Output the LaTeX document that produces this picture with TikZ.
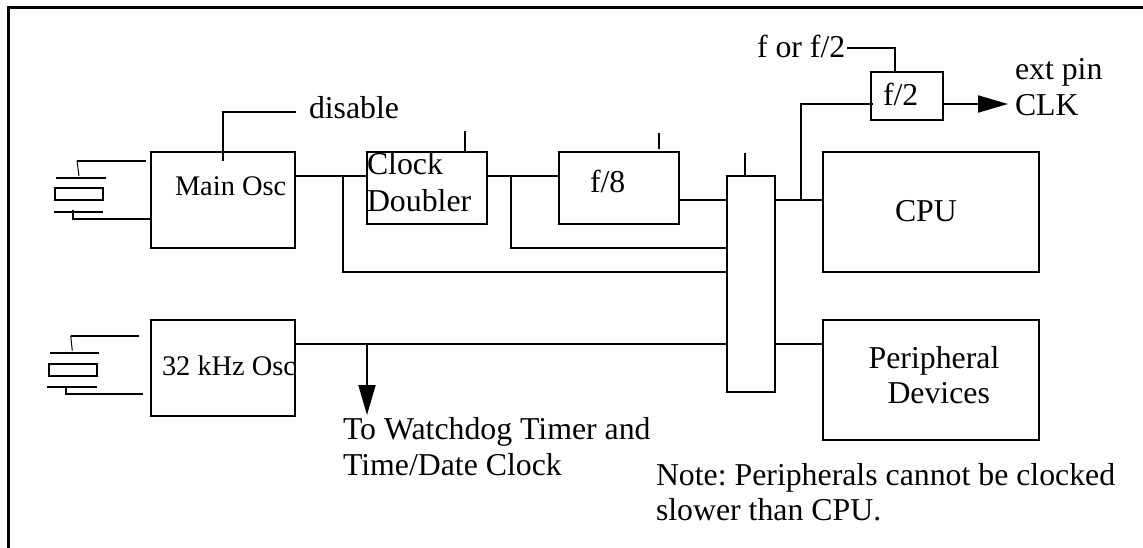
\documentclass[tikz,border=0pt]{standalone}
\usepackage{fontspec}
\setmainfont{Liberation Serif}
\usetikzlibrary{arrows.meta}
\tikzset{
  wire/.style={line width=1.9pt,line cap=butt},
  thinwire/.style={line width=1pt},
  frameline/.style={line width=2.8pt},
  blockbox/.style={draw,line width=1.9pt,inner sep=0pt,outer sep=0pt},
  lab/.style={anchor=base west,inner sep=0pt,outer sep=0pt,font=\fontsize{31.8}{32}\selectfont\frenchspacing},
  smalllab/.style={anchor=base west,inner sep=0pt,outer sep=0pt,font=\fontsize{28.4}{28.4}\selectfont},
  head/.style={-{Triangle[length=30pt,width=17pt]}},
}
\begin{document}
\begin{tikzpicture}[x=1pt,y=-1pt]
\useasboundingbox (0,0) rectangle (1143,548);
% frame
\coordinate (fa) at (8.5,548); \coordinate (fb) at (8.5,7.3); \coordinate (fc) at (1143,7.3);
\draw[frameline] (fa) -- (fb) -- (fc);
% blocks
\node[blockbox,minimum width=144pt,minimum height=95.6pt] (main) at (223,199.8) {};
\node[blockbox,minimum width=144pt,minimum height=95.6pt] (slow) at (223,367.8) {};
\node[blockbox,minimum width=120.3pt,minimum height=72pt] (dbl) at (426.8,188) {};
\node[blockbox,minimum width=120pt,minimum height=72pt] (div8) at (619,188) {};
\node[blockbox,minimum width=48pt,minimum height=215.7pt] (mux) at (751,283.8) {};
\node[blockbox,minimum width=216pt,minimum height=120pt] (cpu) at (931,212) {};
\node[blockbox,minimum width=216pt,minimum height=120pt] (per) at (931,380) {};
\node[blockbox,minimum width=72pt,minimum height=48pt] (div2) at (907,96) {};
% labels
\node[lab] (tdis) at (309,119) {disable};
\node[smalllab] (tmain) at (175,196) {Main Osc};
\node[smalllab] (tslow) at (162,375) {32 kHz Osc};
\node[lab] (tclk) at (367,175) {Clock};
\node[lab] (tdbl) at (367,212) {Doubler};
\node[lab] (tf8) at (590,193) {f/8};
\node[lab] (tfor) at (757,58) {f or f/2};
\node[lab] (tf2) at (883,106) {f/2};
\node[lab] (text) at (1015,80) {ext pin};
\node[lab] (tclkp) at (1015,116) {CLK};
\node[lab] (tcpu) at (895,222) {CPU};
\node[lab,anchor=base] (tper) at (934,368) {Peripheral};
\node[lab,anchor=base] (tdev) at (938.7,403.5) {Devices};
\node[lab] (twd) at (343,439) {To Watchdog Timer and};
\node[lab] (ttd) at (343,475) {Time/Date Clock};
\node[lab] (tnote) at (656,485.7) {Note: Peripherals cannot be clocked};
\node[lab] (tslw) at (656,520.5) {slower than CPU.};
% helper points
\coordinate (j1) at (343,176);
\coordinate (j2) at (511,176);
\coordinate (j3) at (801,200);
\coordinate (j4) at (367,344);
\coordinate (k1) at (343,272);
\coordinate (k2) at (511,248);
\coordinate (k3) at (801,104);
\coordinate (f8o) at (679,200);
% main wiring
\draw[wire] (main.east |- j1) -- (dbl.west |- j1);
\draw[wire] (j1) -- (k1) -- (mux.west |- k1);
\draw[wire] (dbl.east |- j2) -- (div8.west |- j2);
\draw[wire] (j2) -- (k2) -- (mux.west |- k2);
\draw[wire] (f8o) -- (mux.west |- f8o);
\draw[wire] (mux.east |- j3) -- (cpu.west |- j3);
\coordinate (d2i) at (873,104);
\draw[wire] (j3) -- (k3) -- (d2i);
\coordinate (d2o) at (942,104);
\coordinate (clktip) at (1008,104);
\draw[wire,head] (d2o) -- (clktip);
\coordinate (forend) at (847,48);
\coordinate (forc) at (895,48);
\draw[wire] (forend) -- (forc) -- (forc |- div2.north);
\coordinate (m344) at (727,344);
\draw[wire] (slow.east |- m344) -- (mux.west |- m344);
\draw[wire] (mux.east |- m344) -- (per.west |- m344);
\coordinate (wdtip) at (367,415);
\draw[wire,head] (j4) -- (wdtip);
% stubs
\coordinate (s1) at (465,131);
\draw[wire] (s1) -- (s1 |- dbl.north);
\coordinate (s2a) at (659,133); \coordinate (s2b) at (659,149);
\draw[wire] (s2a) -- (s2b);
\coordinate (s3) at (745,153);
\draw[wire] (s3) -- (s3 |- mux.north);
% disable
\coordinate (da) at (222.7,160.7); \coordinate (db) at (222.7,112); \coordinate (dc) at (295.7,112);
\draw[wire] (da) -- (db) -- (dc);
% crystal 1
\node[blockbox,minimum width=48.3pt,minimum height=12.3pt] (x1) at (78.8,193.8) {};
\coordinate (p1a) at (56,178); \coordinate (p1b) at (106,178);
\coordinate (p2a) at (54,212); \coordinate (p2b) at (102.7,212);
\draw[wire] (p1a) -- (p1b);
\draw[wire] (p2a) -- (p2b);
\coordinate (w1a) at (146,160.7); \coordinate (w1b) at (77,160.7); \coordinate (w1c) at (79,176);
\draw[wire] (w1a) -- (w1b);
\draw[thinwire] (w1b) -- (w1c);
\coordinate (w2a) at (72.7,210); \coordinate (w2b) at (72.7,218.7);
\draw[wire] (w2a) -- (w2b) -- (main.west |- w2b);
% crystal 2
\node[blockbox,minimum width=48.6pt,minimum height=12.3pt] (x2) at (73,369.8) {};
\coordinate (q1a) at (50,352.7); \coordinate (q1b) at (99,352.7);
\coordinate (q2a) at (47,386.7); \coordinate (q2b) at (97,386.7);
\draw[wire] (q1a) -- (q1b);
\draw[wire] (q2a) -- (q2b);
\coordinate (v1a) at (138.7,335.7); \coordinate (v1b) at (70.7,335.7); \coordinate (v1c) at (72.3,350.7);
\draw[wire] (v1a) -- (v1b);
\draw[thinwire] (v1b) -- (v1c);
\coordinate (v2a) at (65.7,386.7); \coordinate (v2b) at (65.7,394); \coordinate (v2c) at (143,394);
\draw[wire] (v2a) -- (v2b) -- (v2c);
\end{tikzpicture}
\end{document}
